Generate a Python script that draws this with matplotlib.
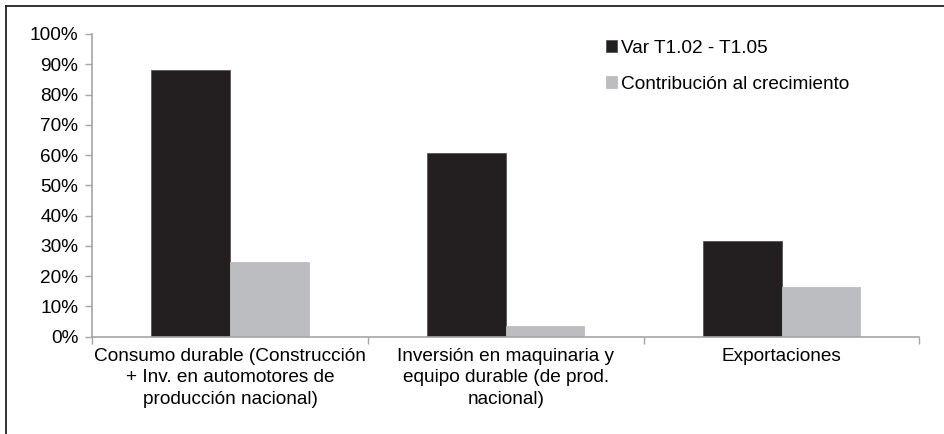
import matplotlib
matplotlib.use("Agg")
import matplotlib.pyplot as plt
from matplotlib.lines import Line2D
from matplotlib.ticker import FixedLocator

plt.rcParams['font.family'] = ['Liberation Sans', 'DejaVu Sans']

categories = ["Consumo durable (Construcción\n+ Inv. en automotores de\nproducción nacional)",
              "Inversión en maquinaria y\nequipo durable (de prod.\nnacional)",
              "Exportaciones"]
series_names = ["Var T1.02 - T1.05", "Contribución al crecimiento"]
var_values = [88.2, 60.6, 31.7]
contrib_values = [24.8, 3.5, 16.4]
yticks = [0, 10, 20, 30, 40, 50, 60, 70, 80, 90, 100]

black = "#231f20"
gray = "#bcbdc0"
axis_col = "#a6a6a6"
fs = 13.7

fig = plt.figure(figsize=(9.45, 4.34), dpi=100)
ax = fig.add_axes([0.0974, 0.2242, 0.973 - 0.0974, 0.9217 - 0.2242])

w = 0.285
x = list(range(len(categories)))
ax.bar([i - w / 2 for i in x], var_values, width=w, color=black, edgecolor="#555555", linewidth=0.6, label=series_names[0])
ax.bar([i + w / 2 for i in x], contrib_values, width=w, color=gray, edgecolor=gray, linewidth=0.6, label=series_names[1])

ax.set_xlim(-0.5, 2.5)
ax.set_ylim(0, 100)
ax.set_yticks(yticks)
ax.set_yticklabels([f"{v}%" for v in yticks], fontsize=fs, color="#000000")
ax.set_xticks(x)
ax.set_xticklabels(categories, fontsize=fs, linespacing=1.35)
ax.xaxis.set_minor_locator(FixedLocator([-0.5, 0.5, 1.5, 2.5]))
ax.tick_params(axis='x', which='major', length=0, pad=8)
ax.tick_params(axis='x', which='minor', length=5, color=axis_col, width=1)
ax.tick_params(axis='y', length=5, color=axis_col, width=1, pad=5)

for s in ['top', 'right']:
    ax.spines[s].set_visible(False)
for s in ['left', 'bottom']:
    ax.spines[s].set_color(axis_col)
    ax.spines[s].set_linewidth(1.2)

leg = ax.legend(loc='upper left', bbox_to_anchor=(0.612, 1.005), frameon=False,
                fontsize=fs, handlelength=0.6, handleheight=0.6, handletextpad=0.2,
                labelspacing=1.0, borderaxespad=0)

# figure border (left and top)
fig.add_artist(Line2D([0.0063, 0.0063], [0, 0.986], color="#222222", lw=1.3, transform=fig.transFigure))
fig.add_artist(Line2D([0.0063, 1.0], [0.986, 0.986], color="#222222", lw=1.3, transform=fig.transFigure))

fig.savefig("out.png", dpi=100)
